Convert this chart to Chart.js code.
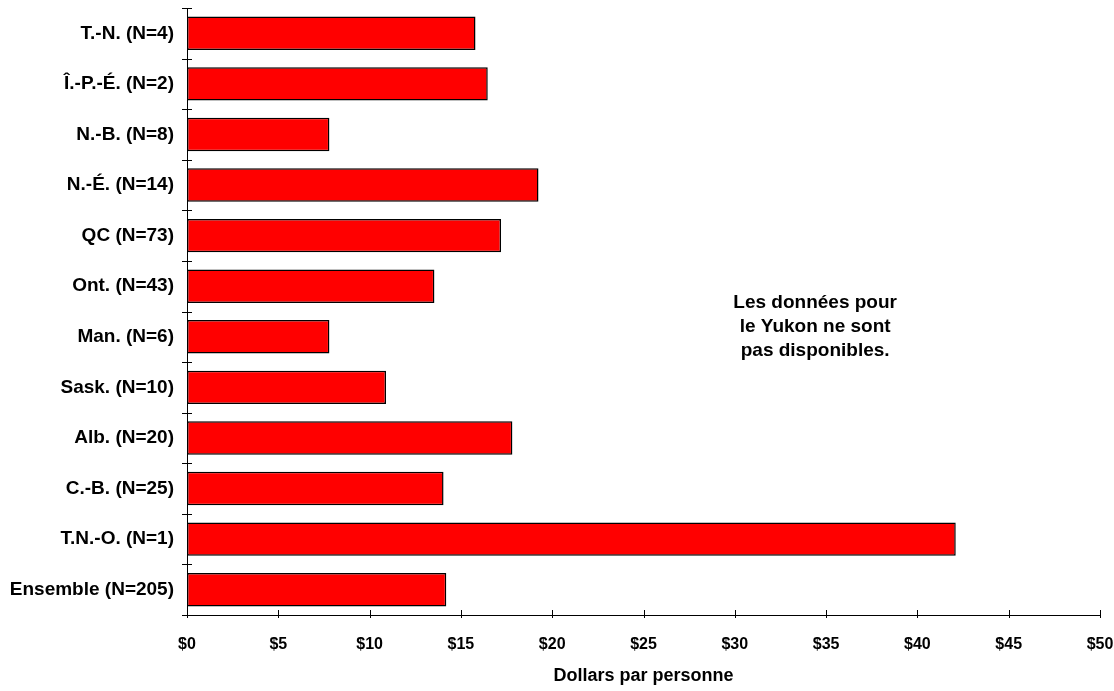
<!DOCTYPE html>
<html>
<head>
<meta charset="utf-8">
<script src="https://cdn.jsdelivr.net/npm/chart.js@4.4.1/dist/chart.umd.min.js"></script>
<style>
  body { margin: 0; background: #fff; }
</style>
</head>
<body>
<canvas id="chart" width="1114" height="691"></canvas>
<script>
// donnees
const provinces = ["T.-N. (N=4)", "Î.-P.-É. (N=2)", "N.-B. (N=8)", "N.-É. (N=14)", "QC (N=73)", "Ont. (N=43)",
    "Man. (N=6)", "Sask. (N=10)", "Alb. (N=20)", "C.-B. (N=25)", "T.N.-O. (N=1)", "Ensemble (N=205)"];
const dollars = [15.8, 16.47, 7.8, 19.25, 17.2, 13.55, 7.8, 10.9, 17.82, 14.05, 42.1, 14.2];
const tickValues = [0, 5, 10, 15, 20, 25, 30, 35, 40, 45, 50];
const axisTitle = "Dollars par personne";
const note = ["Les données pour", "le Yukon ne sont", "pas disponibles."];

const fontName = "'Liberation Sans', Arial, sans-serif";

// petites marques qui traversent les axes
const tickMarks = {
    id: 'tickMarks',
    afterDraw(chart) {
        const ctx = chart.ctx;
        const x = chart.scales.x;
        const y = chart.scales.y;
        ctx.save();
        ctx.strokeStyle = '#000';
        ctx.lineWidth = 1;
        ctx.beginPath();
        const half = (y.getPixelForValue(1) - y.getPixelForValue(0)) / 2;
        for (let i = 0; i <= provinces.length; i++) {
            const py = Math.round(y.getPixelForValue(0) - half + i * half * 2) + 0.5;
            ctx.moveTo(x.left - 5, py);
            ctx.lineTo(x.left + 5, py);
        }
        tickValues.forEach(v => {
            const px = Math.round(x.getPixelForValue(v)) + 0.5;
            ctx.moveTo(px, y.bottom - 5);
            ctx.lineTo(px, y.bottom + 3);
        });
        ctx.stroke();

        // note Yukon
        ctx.fillStyle = '#000';
        ctx.font = 'bold 19px ' + fontName;
        ctx.textAlign = 'center';
        ctx.textBaseline = 'middle';
        const cx = x.getPixelForValue(34.4);
        const cy = y.getPixelForValue(5.8);
        note.forEach((line, i) => {
            ctx.fillText(line, cx, cy + (i - 1) * 24);
        });
        ctx.restore();
    }
};

const ctxChart = document.getElementById("chart").getContext("2d");
const graficaBarras = new Chart(ctxChart, {
    type: 'bar',
    data: {
        labels: provinces,
        datasets: [{
            data: dollars,
            backgroundColor: '#ff0000',
            borderColor: '#000',
            borderWidth: 1.5,
            borderSkipped: false,
            categoryPercentage: 1,
            barPercentage: 0.66
        }]
    },
    options: {
        indexAxis: 'y',
        responsive: false,
        animation: false,
        layout: { padding: { top: 8, right: 14, bottom: 0, left: 0 } },
        plugins: {
            legend: { display: false },
            tooltip: { enabled: false }
        },
        scales: {
            x: {
                min: 0,
                max: 50,
                afterBuildTicks: s => { s.ticks = tickValues.map(v => ({ value: v })); },
                afterFit: s => {
                    s.height = 76;
                    s.paddingLeft = 0;
                    s.paddingRight = 0;
                },
                grid: { display: false, drawTicks: false },
                border: { display: true, color: '#000', width: 1 },
                ticks: {
                    padding: 20,
                    color: '#000',
                    font: { family: fontName, size: 16, weight: 'bold' },
                    callback: v => '$' + v
                },
                title: {
                    display: true,
                    text: axisTitle,
                    color: '#000',
                    padding: { top: 4, bottom: 4 },
                    font: { family: fontName, size: 18, weight: 'bold' }
                }
            },
            y: {
                afterFit: s => {
                    s.width = 187;
                    s.paddingTop = 0;
                    s.paddingBottom = 0;
                },
                grid: { display: false, drawTicks: false },
                border: { display: true, color: '#000', width: 1 },
                ticks: {
                    padding: 13,
                    color: '#000',
                    font: { family: fontName, size: 19, weight: 'bold' }
                }
            }
        }
    },
    plugins: [tickMarks]
});
</script>
</body>
</html>
